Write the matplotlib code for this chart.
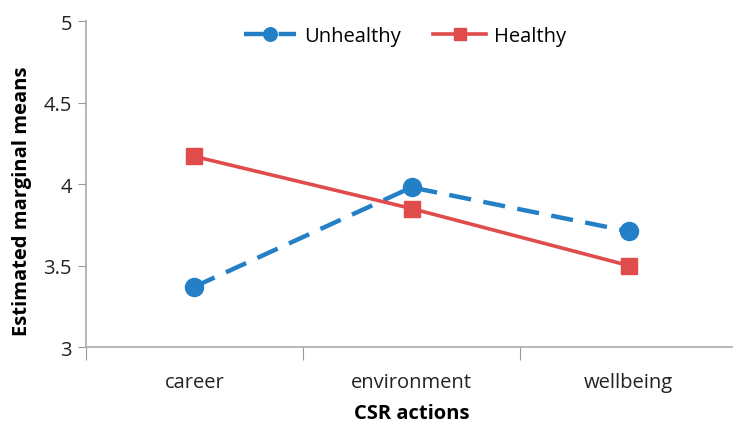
import numpy as np
import matplotlib
matplotlib.use('Agg')
import matplotlib.pyplot as plt

plt.rcParams['font.family'] = ['Open Sans', 'DejaVu Sans']

categories = ['career', 'environment', 'wellbeing']
unhealthy  = [3.37, 3.98, 3.71]
healthy    = [4.17, 3.85, 3.50]

fig = plt.figure(figsize=(7.33, 4.27), dpi=100)
ax = fig.add_axes([0.117, 0.185, 0.889, 0.763])

x = np.arange(len(categories))
ax.plot(x, unhealthy, color='#2480C6', lw=3.2, ls=(0, (5, 2.8)),
        marker='o', ms=13, label='Unhealthy', clip_on=False)
ax.plot(x, healthy, color='#E04B4B', lw=2.6,
        marker='s', ms=11.5, label='Healthy', clip_on=False)

ax.set_xlim(-0.5, 2.5)
ax.set_ylim(3, 5)
ax.set_yticks([3, 3.5, 4, 4.5, 5])
ax.set_yticklabels(['3', '3.5', '4', '4.5', '5'])
ax.set_xticks([-0.5, 0.5, 1.5, 2.5])
ax.set_xticklabels([])
ax.set_xticks(x, minor=True)
ax.set_xticklabels(categories, minor=True)
ax.tick_params(axis='x', which='minor', length=0, pad=18, labelsize=14.5, colors='#222222')
ax.tick_params(axis='x', which='major', length=9, color='#999999', direction='out')
ax.tick_params(axis='y', length=6, color='#999999', labelsize=14.5, labelcolor='#222222', pad=4)

for s in ['top', 'right']:
    ax.spines[s].set_visible(False)
for s in ['left', 'bottom']:
    ax.spines[s].set_color('#aaaaaa')
    ax.spines[s].set_linewidth(1.2)

ax.set_ylabel('Estimated marginal means', fontsize=14.5, fontweight='bold')
ax.yaxis.set_label_coords(-0.082, 0.45)
ax.set_xlabel('CSR actions', fontsize=14.5, fontweight='bold', labelpad=8)

ax.legend(loc='upper center', bbox_to_anchor=(0.49, 1.04), ncol=2, frameon=False,
          fontsize=14.5, handlelength=2.6, columnspacing=1.6, handletextpad=0.4,
          markerscale=0.75)

plt.savefig('out.png', dpi=100)
plt.close('all')
